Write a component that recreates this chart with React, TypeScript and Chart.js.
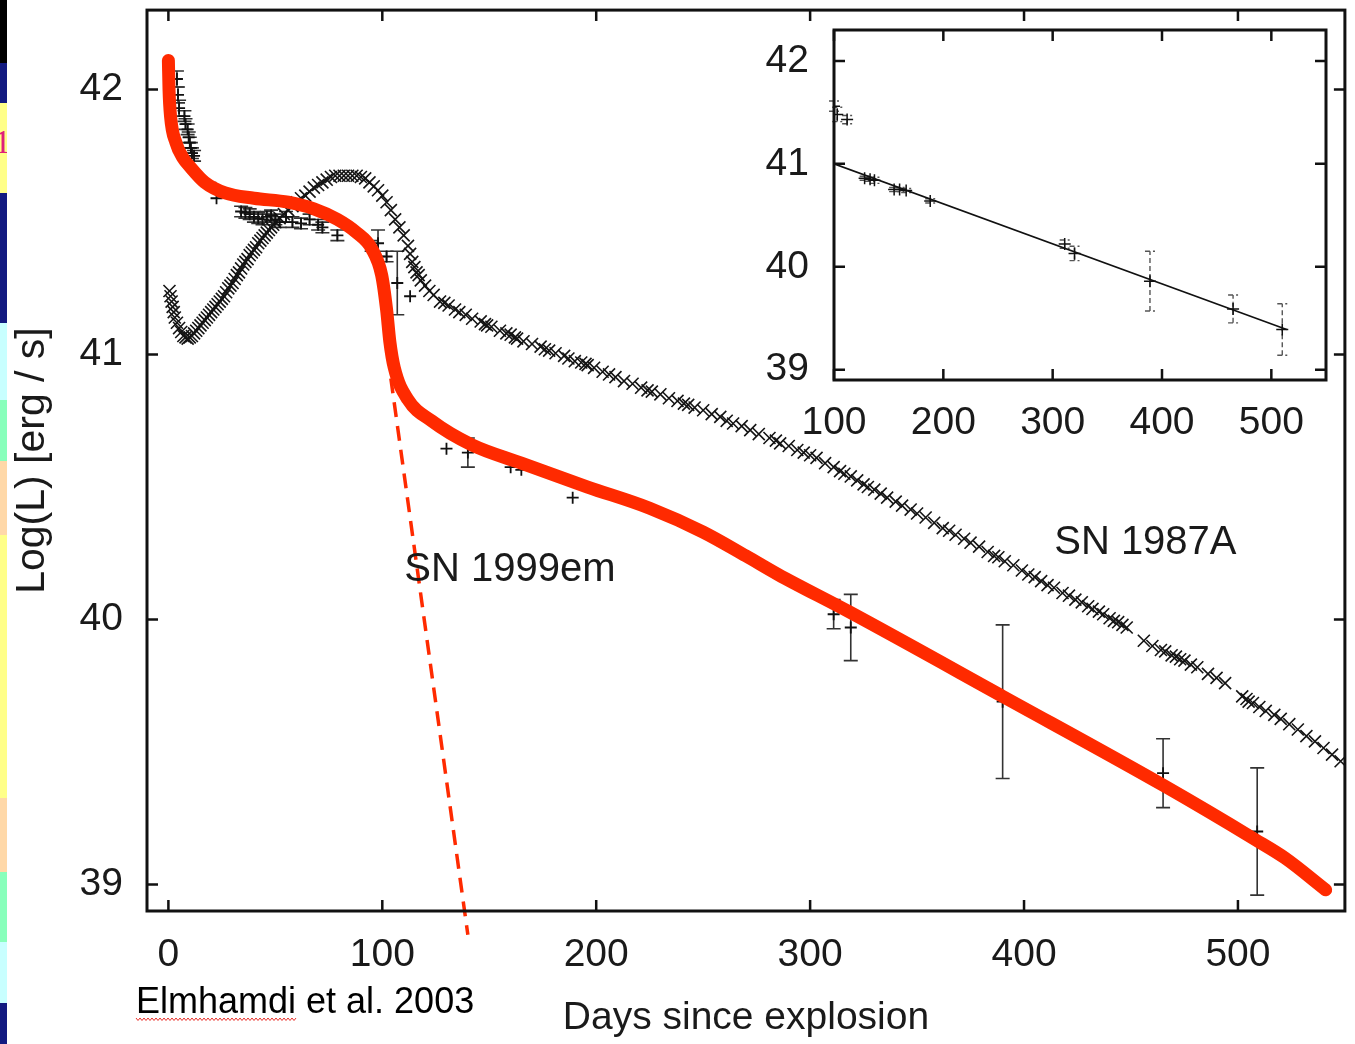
import React, { useEffect, useRef } from 'react';
import { Chart, registerables } from 'chart.js';

Chart.register(...registerables);

// ---------------- Data ----------------
// SN 1987A bolometric light curve (x markers)
const sn87Days = [
  0.5, 1, 1.5, 2, 2.5, 3, 4, 5, 6, 7, 8, 9, 10, 11, 12, 13, 14, 15, 16, 17, 18, 19, 20, 21, 22, 23, 24, 25, 26, 27,
  28, 29, 30, 31, 32, 33, 34, 35, 36, 37, 38, 39, 40, 41, 42, 43, 44, 45, 46, 47, 48, 49, 50, 52, 54, 56, 58, 60, 62, 64,
  66, 68, 70, 72, 74, 76, 78, 80, 82, 84, 86, 88, 90, 92, 94, 96, 98, 100, 102, 104, 106, 108, 110, 112, 113, 114, 115, 116, 117, 118,
  120, 122, 124, 127, 129, 131, 134, 136, 139, 142, 146, 148, 149, 151, 155, 158, 160, 162, 163, 166, 170, 174, 176, 178, 181, 185, 187, 190, 193, 195,
  196, 199, 203, 206, 209, 213, 217, 221, 224, 226, 230, 234, 238, 241, 243, 246, 250, 254, 258, 261, 264, 268, 272, 276, 281, 284, 286, 290, 294, 297,
  300, 303, 307, 311, 314, 316, 319, 322, 325, 327, 330, 333, 336, 340, 343, 347, 350, 354, 358, 362, 365, 368, 372, 375, 379, 383, 386, 388, 391, 395,
  399, 402, 405, 408, 411, 414, 418, 421, 424, 427, 430, 432, 435, 437, 440, 442, 444, 446, 448, 456, 460, 464, 466, 469, 471, 473, 475, 478, 481, 486,
  490, 494, 502, 504, 505, 507, 510, 513, 517, 520, 524, 528, 532, 536, 540, 544, 548
];
const sn87Lum = [
  41.24, 41.22, 41.2, 41.18, 41.16, 41.14, 41.12, 41.1, 41.085, 41.07, 41.065, 41.06, 41.065, 41.07, 41.08, 41.09, 41.1, 41.11, 41.12, 41.13, 41.14, 41.15, 41.16, 41.17, 41.18, 41.19, 41.2, 41.21, 41.22, 41.235,
  41.25, 41.26, 41.27, 41.285, 41.3, 41.31, 41.325, 41.34, 41.35, 41.36, 41.375, 41.385, 41.395, 41.405, 41.42, 41.43, 41.44, 41.45, 41.46, 41.47, 41.48, 41.49, 41.5, 41.515, 41.53, 41.545, 41.56, 41.575, 41.59, 41.6,
  41.615, 41.63, 41.64, 41.65, 41.66, 41.67, 41.675, 41.675, 41.675, 41.675, 41.675, 41.675, 41.67, 41.665, 41.65, 41.635, 41.62, 41.6, 41.575, 41.545, 41.51, 41.48, 41.45, 41.41, 41.38, 41.35, 41.33, 41.31, 41.3, 41.28,
  41.26, 41.24, 41.225, 41.2, 41.195, 41.185, 41.17, 41.16, 41.15, 41.135, 41.125, 41.115, 41.11, 41.105, 41.09, 41.08, 41.075, 41.065, 41.06, 41.05, 41.04, 41.03, 41.02, 41.015, 41.005, 40.995, 40.985, 40.975, 40.97, 40.965,
  40.96, 40.95, 40.935, 40.925, 40.915, 40.9, 40.89, 40.875, 40.865, 40.86, 40.85, 40.835, 40.825, 40.815, 40.81, 40.8, 40.79, 40.775, 40.765, 40.75, 40.74, 40.73, 40.715, 40.7, 40.685, 40.675, 40.665, 40.655, 40.64, 40.63,
  40.62, 40.61, 40.59, 40.575, 40.56, 40.55, 40.54, 40.525, 40.51, 40.5, 40.49, 40.475, 40.46, 40.445, 40.43, 40.415, 40.4, 40.385, 40.365, 40.345, 40.335, 40.32, 40.305, 40.29, 40.275, 40.255, 40.24, 40.235, 40.22, 40.205,
  40.185, 40.17, 40.16, 40.145, 40.13, 40.12, 40.1, 40.09, 40.075, 40.065, 40.05, 40.04, 40.03, 40.02, 40.005, 39.995, 39.99, 39.98, 39.97, 39.92, 39.9, 39.885, 39.88, 39.865, 39.86, 39.85, 39.845, 39.83, 39.82, 39.795,
  39.78, 39.76, 39.71, 39.7, 39.69, 39.685, 39.67, 39.655, 39.64, 39.625, 39.605, 39.585, 39.56, 39.54, 39.515, 39.49, 39.465
];

// SN 1999em observations (+ markers with error bars)
const sn99Days = [
  4, 4.5, 5, 7.5, 8, 9, 9.5, 10, 10.5, 11, 12, 22, 22.5, 34, 36, 38, 40, 42, 44, 46,
  48, 50, 52, 55, 58, 62, 66, 70, 72, 79, 95, 98, 102, 107, 113, 130, 140, 160, 165, 189,
  311, 319, 390, 465, 509
];
const sn99Lum = [
  42.04, 41.98, 41.93, 41.9, 41.87, 41.85, 41.82, 41.8, 41.78, 41.76, 41.75, 41.63, 41.59, 41.54, 41.535, 41.53, 41.52, 41.515, 41.51, 41.52,
  41.525, 41.51, 41.5, 41.52, 41.5, 41.495, 41.51, 41.49, 41.48, 41.45, 41.41, 41.42, 41.37, 41.27, 41.22, 40.645, 40.63, 40.575, 40.565, 40.46,
  40.02, 39.97, 39.69, 39.42, 39.2
];
const sn99Err = [
  0.03, 0.03, 0.03, 0.02, 0.02, 0.02, 0.02, 0.02, 0.02, 0.02, 0.02, 0.0, 0.0, 0.02, 0.02, 0.02, 0.02, 0.02, 0.02, 0.02,
  0.02, 0.02, 0.02, 0.02, 0.02, 0.02, 0.02, 0.02, 0.02, 0.02, 0.02, 0.05, 0.02, 0.12, 0.0, 0.0, 0.055, 0.0, 0.0, 0.0,
  0.055, 0.125, 0.29, 0.13, 0.24
];

// Red model curve
const modelDays = [
  0, 0.3, 1, 3.5, 7, 10, 17, 26.5, 40, 56, 68, 79, 88, 95, 99.7, 102, 103.5, 105.6, 112, 123,
  141.6, 165, 196, 225, 250, 270, 285, 318, 390, 466, 508, 522, 541
];
const modelLum = [
  42.11, 42.0, 41.9, 41.8, 41.74, 41.71, 41.65, 41.61, 41.59, 41.575, 41.55, 41.51, 41.46, 41.4, 41.3, 41.17, 41.05, 40.95, 40.83, 40.75,
  40.66, 40.59, 40.5, 40.42, 40.33, 40.24, 40.17, 40.03, 39.71, 39.37, 39.17, 39.1, 38.98
];

// Red dashed extrapolation
const dashDays = [104, 140];
const dashLum = [40.91, 38.81];

const xTicks = [0, 100, 200, 300, 400, 500];
const yTicks = [39, 40, 41, 42];

// Inset: radioactive tail with fit
const insetDays = [100, 103, 112, 128, 133, 137, 155, 160, 166, 188, 311, 320, 389, 465, 510];
const insetLum = [41.56, 41.48, 41.43, 40.86, 40.85, 40.84, 40.75, 40.75, 40.74, 40.64, 40.22, 40.13, 39.86, 39.59, 39.39];
const insetErr = [0.05, 0.07, 0.04, 0.02, 0.02, 0.03, 0.02, 0.02, 0.02, 0.02, 0.04, 0.07, 0.29, 0.135, 0.25];
const insetFitDays = [100, 514];
const insetFitLum = [41.0, 39.39];
const insetXTicks = [100, 200, 300, 400, 500];
const insetYTicks = [39, 40, 41, 42];

// ---------------- Helpers ----------------
const FONT = "'Liberation Sans', Arial, Helvetica, sans-serif";
const TEXT = '#1a1a1a';
const RED = '#ff2a00';

const pts = (xs: number[], ys: number[]) => xs.map((x, i) => ({ x, y: ys[i] }));

function framePlugin(xt: number[], yt: number[], tickLen: number, fillBg: boolean) {
  return {
    id: 'frameTicks',
    beforeDatasetsDraw(chart: any) {
      if (!fillBg) return;
      const { ctx, chartArea: a } = chart;
      ctx.save();
      ctx.fillStyle = '#ffffff';
      ctx.fillRect(a.left, a.top, a.right - a.left, a.bottom - a.top);
      ctx.restore();
    },
    afterDraw(chart: any) {
      const { ctx, chartArea: a, scales } = chart;
      ctx.save();
      ctx.strokeStyle = '#111';
      ctx.lineWidth = 2.5;
      ctx.beginPath();
      for (const v of xt) {
        const px = scales.x.getPixelForValue(v);
        ctx.moveTo(px, a.bottom);
        ctx.lineTo(px, a.bottom - tickLen);
        ctx.moveTo(px, a.top);
        ctx.lineTo(px, a.top + tickLen);
      }
      for (const v of yt) {
        const py = scales.y.getPixelForValue(v);
        ctx.moveTo(a.left, py);
        ctx.lineTo(a.left + tickLen, py);
        ctx.moveTo(a.right, py);
        ctx.lineTo(a.right - tickLen, py);
      }
      ctx.stroke();
      ctx.lineWidth = 3;
      ctx.strokeRect(a.left, a.top, a.right - a.left, a.bottom - a.top);
      ctx.restore();
    },
  };
}

const errorBarPlugin = {
  id: 'errorBars',
  beforeDatasetsDraw(chart: any) {
    const { ctx, scales } = chart;
    chart.data.datasets.forEach((ds: any) => {
      if (!ds.errorBars) return;
      const st = ds.errorStyle;
      ctx.save();
      ctx.strokeStyle = st.color;
      ctx.lineWidth = st.width;
      ctx.setLineDash(st.dash || []);
      ds.data.forEach((p: any, j: number) => {
        const e = ds.errorBars[j];
        if (!e) return;
        const x = scales.x.getPixelForValue(p.x);
        const y1 = scales.y.getPixelForValue(p.y - e);
        const y2 = scales.y.getPixelForValue(p.y + e);
        ctx.beginPath();
        ctx.moveTo(x, y1);
        ctx.lineTo(x, y2);
        ctx.moveTo(x - st.cap, y1);
        ctx.lineTo(x + st.cap, y1);
        ctx.moveTo(x - st.cap, y2);
        ctx.lineTo(x + st.cap, y2);
        ctx.stroke();
      });
      ctx.restore();
    });
  },
};

const annotationPlugin = {
  id: 'annotations',
  afterDraw(chart: any) {
    const { ctx, scales } = chart;
    ctx.save();
    ctx.fillStyle = TEXT;
    ctx.textBaseline = 'alphabetic';
    ctx.textAlign = 'left';
    ctx.font = `40px ${FONT}`;
    ctx.fillText('SN 1999em', scales.x.getPixelForValue(110.3), scales.y.getPixelForValue(40.144));
    ctx.fillText('SN 1987A', scales.x.getPixelForValue(414.1), scales.y.getPixelForValue(40.246));
    ctx.fillStyle = '#000';
    ctx.font = `36px ${FONT}`;
    const capX = 136;
    const capY = 1013;
    ctx.fillText('Elmhamdi et al. 2003', capX, capY);
    const w = ctx.measureText('Elmhamdi').width;
    ctx.strokeStyle = '#e8302a';
    ctx.lineWidth = 1;
    ctx.beginPath();
    let up = true;
    for (let x = capX; x <= capX + w; x += 2) {
      const y = capY + 5 + (up ? 0 : 2.5);
      if (x === capX) ctx.moveTo(x, y);
      else ctx.lineTo(x, y);
      up = !up;
    }
    ctx.stroke();
    ctx.restore();
  },
};

const noPadX = (h: number) => (s: any) => {
  s.height = h;
  s.paddingLeft = 0;
  s.paddingRight = 0;
  s.paddingTop = 0;
  s.paddingBottom = 0;
};
const noPadY = (w: number) => (s: any) => {
  s.width = w;
  s.paddingLeft = 0;
  s.paddingRight = 0;
  s.paddingTop = 0;
  s.paddingBottom = 0;
};

function MainChart() {
  const ref = useRef<HTMLCanvasElement | null>(null);
  useEffect(() => {
    if (!ref.current) return;
    const chart = new Chart(ref.current, {
      type: 'scatter',
      data: {
        datasets: [
          {
            label: 'model',
            data: pts(modelDays, modelLum),
            showLine: true,
            borderColor: RED,
            backgroundColor: RED,
            borderWidth: 13,
            pointRadius: 0,
            cubicInterpolationMode: 'monotone',
            borderCapStyle: 'round',
            borderJoinStyle: 'round',
          } as any,
          {
            label: 'extrapolation',
            data: pts(dashDays, dashLum),
            showLine: true,
            borderColor: RED,
            borderWidth: 3.5,
            borderDash: [15, 9],
            pointRadius: 0,
            clip: false,
          } as any,
          {
            label: 'SN 1999em',
            data: pts(sn99Days, sn99Lum),
            showLine: false,
            pointStyle: 'cross',
            pointRadius: 6,
            borderColor: '#111',
            backgroundColor: '#111',
            borderWidth: 1.8,
            errorBars: sn99Err,
            errorStyle: { color: '#333', width: 1.6, cap: 7 },
          } as any,
          {
            label: 'SN 1987A',
            data: pts(sn87Days, sn87Lum),
            showLine: false,
            pointStyle: 'crossRot',
            pointRadius: 8.5,
            borderColor: '#151515',
            backgroundColor: '#151515',
            borderWidth: 1.6,
          } as any,
        ],
      },
      options: {
        animation: false,
        responsive: false,
        maintainAspectRatio: false,
        layout: { padding: { top: 8, right: 7, left: 0, bottom: 0 } },
        plugins: { legend: { display: false }, tooltip: { enabled: false } },
        scales: {
          x: {
            type: 'linear',
            min: -10,
            max: 550,
            grid: { display: false, drawTicks: false },
            border: { display: false },
            afterBuildTicks: (s: any) => {
              s.ticks = xTicks.map((v) => ({ value: v }));
            },
            afterFit: noPadX(133),
            ticks: {
              font: { size: 39, family: FONT },
              color: TEXT,
              padding: 21,
              maxRotation: 0,
              autoSkip: false,
            },
            title: {
              display: true,
              text: 'Days since explosion',
              font: { size: 39, family: FONT },
              color: TEXT,
              padding: { top: 0, bottom: 2 },
            },
          },
          y: {
            type: 'linear',
            min: 38.9,
            max: 42.3,
            grid: { display: false, drawTicks: false },
            border: { display: false },
            afterBuildTicks: (s: any) => {
              s.ticks = yTicks.map((v) => ({ value: v }));
            },
            afterFit: noPadY(147),
            ticks: {
              font: { size: 39, family: FONT },
              color: TEXT,
              padding: 24,
              autoSkip: false,
            },
            title: {
              display: true,
              text: 'Log(L) [erg / s]',
              font: { size: 41, family: FONT },
              color: TEXT,
              padding: { top: 8, bottom: 0 },
            },
          },
        },
      } as any,
      plugins: [errorBarPlugin, framePlugin(xTicks, yTicks, 11, false), annotationPlugin],
    });
    return () => chart.destroy();
  }, []);
  return (
    <canvas
      ref={ref}
      width={1355}
      height={1044}
      style={{ position: 'absolute', left: 0, top: 0, width: 1355, height: 1044 }}
    />
  );
}

function InsetChart() {
  const ref = useRef<HTMLCanvasElement | null>(null);
  useEffect(() => {
    if (!ref.current) return;
    const chart = new Chart(ref.current, {
      type: 'scatter',
      data: {
        datasets: [
          {
            label: 'fit',
            data: pts(insetFitDays, insetFitLum),
            showLine: true,
            borderColor: '#111',
            borderWidth: 1.6,
            pointRadius: 0,
          } as any,
          {
            label: 'data',
            data: pts(insetDays, insetLum),
            showLine: false,
            pointStyle: 'cross',
            pointRadius: 6,
            borderColor: '#111',
            borderWidth: 1.5,
            errorBars: insetErr,
            errorStyle: { color: '#555', width: 1.4, cap: 5, dash: [5, 3] },
          } as any,
        ],
      },
      options: {
        animation: false,
        responsive: false,
        maintainAspectRatio: false,
        layout: { padding: { top: 10, right: 14, left: 0, bottom: 0 } },
        plugins: { legend: { display: false }, tooltip: { enabled: false } },
        scales: {
          x: {
            type: 'linear',
            min: 100,
            max: 550,
            grid: { display: false, drawTicks: false },
            border: { display: false },
            afterBuildTicks: (s: any) => {
              s.ticks = insetXTicks.map((v) => ({ value: v }));
            },
            afterFit: noPadX(70),
            ticks: {
              font: { size: 39, family: FONT },
              color: TEXT,
              padding: 20,
              maxRotation: 0,
              autoSkip: false,
            },
          },
          y: {
            type: 'linear',
            min: 38.9,
            max: 42.3,
            grid: { display: false, drawTicks: false },
            border: { display: false },
            afterBuildTicks: (s: any) => {
              s.ticks = insetYTicks.map((v) => ({ value: v }));
            },
            afterFit: noPadY(94),
            ticks: {
              font: { size: 39, family: FONT },
              color: TEXT,
              padding: 25,
              autoSkip: false,
            },
          },
        },
      } as any,
      plugins: [framePlugin(insetXTicks, insetYTicks, 11, true), errorBarPlugin],
    });
    return () => chart.destroy();
  }, []);
  return (
    <canvas
      ref={ref}
      width={600}
      height={430}
      style={{ position: 'absolute', left: 740, top: 20, width: 600, height: 430 }}
    />
  );
}

const stripBlocks: [number, number, string][] = [
  [0, 63, '#000000'],
  [63, 103, '#121a80'],
  [103, 193, '#ffff88'],
  [193, 323, '#121a80'],
  [323, 400, '#c8ffff'],
  [400, 461, '#88ffbb'],
  [461, 535, '#ffd8a8'],
  [535, 798, '#ffff88'],
  [798, 872, '#ffd8a8'],
  [872, 942, '#88ffbb'],
  [942, 1003, '#c8ffff'],
  [1003, 1044, '#121a80'],
];

export default function App() {
  return (
    <div
      style={{
        position: 'absolute',
        left: 0,
        top: 0,
        width: 1355,
        height: 1044,
        background: '#ffffff',
        overflow: 'hidden',
      }}
    >
      {stripBlocks.map(([t, b, c], i) => (
        <div
          key={i}
          style={{ position: 'absolute', left: 0, top: t, width: 7, height: b - t, background: c }}
        />
      ))}
      <div
        style={{
          position: 'absolute',
          left: -6,
          top: 122,
          width: 13,
          height: 40,
          overflow: 'hidden',
          color: '#e0207a',
          fontFamily: 'serif',
          fontSize: 34,
          lineHeight: '40px',
        }}
      >
        1
      </div>
      <MainChart />
      <InsetChart />
    </div>
  );
}
